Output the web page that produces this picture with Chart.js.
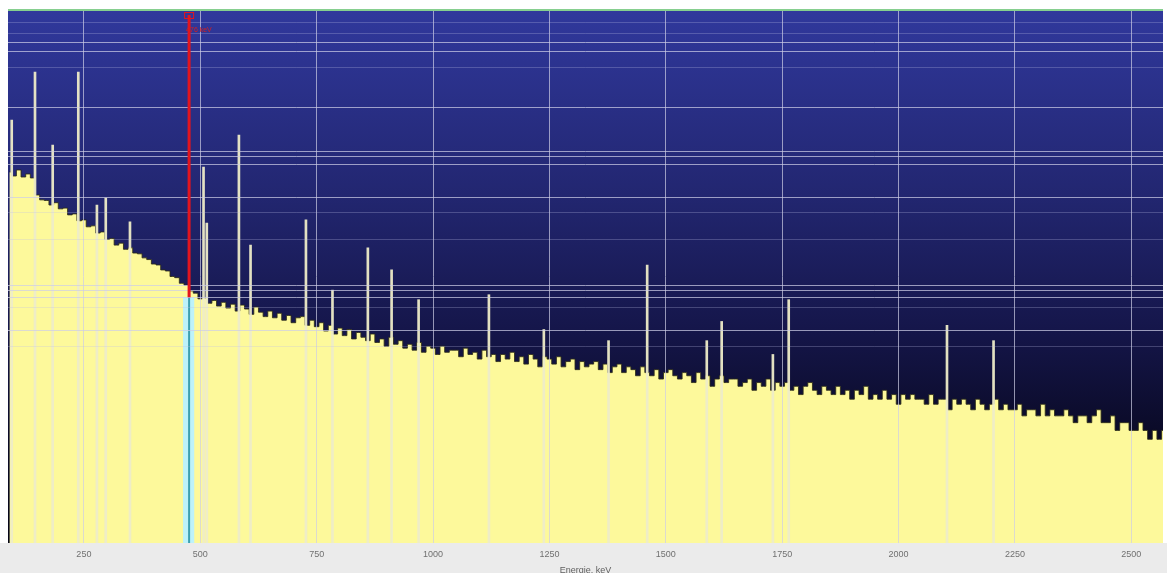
<!DOCTYPE html>
<html>
<head>
<meta charset="utf-8">
<script src="https://cdn.jsdelivr.net/npm/chart.js@4/dist/chart.umd.min.js"></script>
<style>
html, body { margin: 0; padding: 0; background: #fff; overflow: hidden; }
#caixa { width: 1167px; height: 573px; overflow: hidden; }
</style>
</head>
<body>
<div id="caixa"><canvas id="espectroChart" width="1167" height="573"></canvas></div>
<script>
// espectro: contagens por canal de 10 keV, a partir de 90 keV
var inicioEnergia = 90;
var passoEnergia = 10;
var contagens = [
    608, 568, 630, 558, 588, 549,
    409, 376, 372, 344, 358, 322, 326, 290, 295, 262,
    266, 236, 240, 212, 216, 190, 193, 172, 178, 160,
    164, 150, 148, 138, 134, 124, 122, 112, 110, 100,
    98, 89, 86, 78, 75, 68, 69, 63, 66, 60,
    64, 58, 62, 55, 61, 57, 52, 59, 54, 50,
    55, 49, 53, 47, 51, 45, 49, 50, 43, 47,
    42, 45, 39, 43, 37, 41, 36, 40, 34, 38,
    35, 33, 37, 32, 34, 30, 35, 31, 33, 29,
    31, 28, 32, 27, 30, 29, 26, 30, 27, 28,
    28, 25, 29, 26, 27, 24, 28, 25, 26, 23,
    26, 24, 27, 23, 25, 22, 26, 24, 21, 25,
    24, 22, 25, 21, 23, 24, 20, 23, 21, 22,
    23, 20, 22, 19, 21, 22, 19, 21, 20, 18,
    21, 19, 18, 20, 17, 19, 20, 18, 17, 19,
    18, 16, 19, 17, 18, 15, 17, 18, 16, 17,
    17, 15, 16, 17, 14, 16, 15, 17, 14, 16,
    15, 16, 14, 15, 13, 15, 16, 14, 13, 15,
    14, 13, 15, 13, 14, 12, 14, 13, 15, 12,
    13, 12, 14, 12, 13, 11, 13, 12, 13, 12,
    12, 11, 13, 11, 12, 12, 10, 12, 11, 12,
    11, 10, 12, 11, 10, 11, 12, 10, 11, 10,
    10, 11, 9, 10, 10, 9, 11, 9, 10, 9,
    9, 10, 9, 8, 9, 9, 8, 9, 10, 8,
    8, 9, 7, 8, 8, 7, 7, 8, 7, 6,
    7, 6, 7
];
var energias = contagens.map(function (c, i) { return inicioEnergia + i * passoEnergia; });

// picos (linhas finas)
var picosEnergia = [95, 145, 183, 238, 278, 297, 349, 507, 514, 583, 608, 727, 784, 860, 911, 969, 1120, 1238, 1377, 1460, 1588, 1620, 1730, 1764, 2104, 2204];
var picosContagem = [1494, 3427, 970, 3427, 344, 388, 257, 663, 252, 1153, 172, 266, 79, 164, 112, 67, 73, 40, 33, 122, 33, 46, 26, 67, 43, 33];

// eixos
var rotulosX = [250, 500, 750, 1000, 1250, 1500, 1750, 2000, 2250, 2500];
var linhasY = [8100, 6700, 5750, 4850, 3730, 1870, 860, 790, 690, 395, 300, 190, 85, 78, 69, 59, 39, 30];
var linhasFracas = [8100, 6700, 3730, 300, 190, 59, 30];

// marcador e regiao de interesse
var energiaMarcador = 476;
var contagemMarcador = 70;
var rotuloMarcador = '476 keV';
var regiaoEnergia = [463, 487];

var pontos = energias.map(function (e, i) { return { x: e, y: contagens[i] }; });
var picos = picosEnergia.map(function (e, i) { return { x: e, y: picosContagem[i] }; });

const fundoPlugin = {
    id: 'fundo',
    beforeDraw(chart) {
        const { ctx, chartArea: a, width, height } = chart;
        ctx.save();
        ctx.fillStyle = '#ffffff';
        ctx.fillRect(0, 0, width, height);
        ctx.fillStyle = '#ebebeb';
        ctx.fillRect(0, a.bottom, width, height - a.bottom);
        const g = ctx.createLinearGradient(0, a.top, 0, a.bottom);
        g.addColorStop(0, '#30389c');
        g.addColorStop(0.35, '#222670');
        g.addColorStop(0.6, '#15164a');
        g.addColorStop(0.8, '#0a0a26');
        g.addColorStop(1, '#050515');
        ctx.fillStyle = g;
        ctx.fillRect(a.left, a.top, a.right - a.left, a.bottom - a.top);
        ctx.restore();
    },
    afterDatasetsDraw(chart) {
        // regiao azul clara sob o espectro
        const { ctx, chartArea: a, scales } = chart;
        const x1 = scales.x.getPixelForValue(regiaoEnergia[0]);
        const x2 = scales.x.getPixelForValue(regiaoEnergia[1]);
        const xm = scales.x.getPixelForValue(energiaMarcador);
        const yTopo = scales.y.getPixelForValue(contagemMarcador);
        ctx.save();
        ctx.fillStyle = '#bdf2fa';
        ctx.fillRect(x1, yTopo, x2 - x1, a.bottom - yTopo);
        ctx.strokeStyle = '#3c9fb0';
        ctx.lineWidth = 2;
        ctx.beginPath();
        ctx.moveTo(xm, yTopo);
        ctx.lineTo(xm, a.bottom);
        ctx.stroke();
        ctx.restore();
    },
    afterDraw(chart) {
        const { ctx, chartArea: a, scales } = chart;
        const xm = scales.x.getPixelForValue(energiaMarcador);
        const yTopo = scales.y.getPixelForValue(contagemMarcador);
        ctx.save();
        // borda superior verde
        ctx.strokeStyle = '#86cf8f';
        ctx.lineWidth = 2;
        ctx.beginPath();
        ctx.moveTo(a.left, a.top);
        ctx.lineTo(a.right, a.top);
        ctx.stroke();
        // marcador vermelho
        ctx.strokeStyle = '#e3141e';
        ctx.lineWidth = 3;
        ctx.beginPath();
        ctx.moveTo(xm, a.top + 5);
        ctx.lineTo(xm, yTopo);
        ctx.stroke();
        ctx.lineWidth = 1;
        ctx.strokeRect(xm - 4.5, a.top + 2.5, 9, 6);
        ctx.fillStyle = '#d42020';
        ctx.font = '7px "Liberation Sans"';
        ctx.textBaseline = 'middle';
        ctx.fillText(rotuloMarcador, xm - 3, a.top + 20);
        ctx.restore();
    }
};

var ctx = document.getElementById('espectroChart').getContext('2d');
var espectroChart = new Chart(ctx, {
    type: 'line',
    data: {
        datasets: [
            {
                type: 'bar',
                label: 'Picos',
                data: picos,
                backgroundColor: 'rgba(238,236,200,0.95)',
                barThickness: 2,
                order: 1
            },
            {
                label: 'Espectro',
                data: pontos,
                stepped: 'middle',
                fill: 'start',
                backgroundColor: '#fdf99b',
                borderColor: 'rgba(45,45,25,0.85)',
                borderWidth: 1,
                pointRadius: 0,
                order: 2
            }
        ]
    },
    plugins: [fundoPlugin],
    options: {
        responsive: false,
        animation: false,
        layout: { padding: { left: 8, right: 4, top: 10, bottom: 0 } },
        plugins: {
            legend: { display: false },
            tooltip: { enabled: false }
        },
        scales: {
            x: {
                type: 'linear',
                min: 87,
                max: 2568,
                offset: false,
                afterBuildTicks: function (s) {
                    s.ticks = rotulosX.map(function (v) { return { value: v }; });
                },
                afterFit: function (s) {
                    s.height = 30;
                },
                grid: { color: 'rgba(205,205,228,0.7)', lineWidth: 1, drawTicks: false, offset: false, z: 1 },
                border: { display: false },
                ticks: {
                    color: '#707070',
                    font: { size: 9, family: 'Liberation Sans' },
                    padding: 6,
                    maxRotation: 0,
                    autoSkip: false,
                    callback: function (v) { return String(v); }
                },
                title: {
                    display: true,
                    text: 'Energie, keV',
                    color: '#606060',
                    font: { size: 9, family: 'Liberation Sans' },
                    padding: { top: 0, bottom: -3 }
                }
            },
            y: {
                type: 'logarithmic',
                min: 1,
                max: 10000,
                afterBuildTicks: function (s) {
                    s.ticks = linhasY.map(function (v) { return { value: v }; });
                },
                grid: {
                    color: function (c) {
                        return linhasFracas.indexOf(c.tick.value) >= 0 ? 'rgba(190,190,230,0.28)' : 'rgba(205,205,230,0.72)';
                    },
                    drawTicks: false,
                    z: 1
                },
                border: { display: false },
                ticks: { display: false }
            }
        }
    }
});
</script>
</body>
</html>
